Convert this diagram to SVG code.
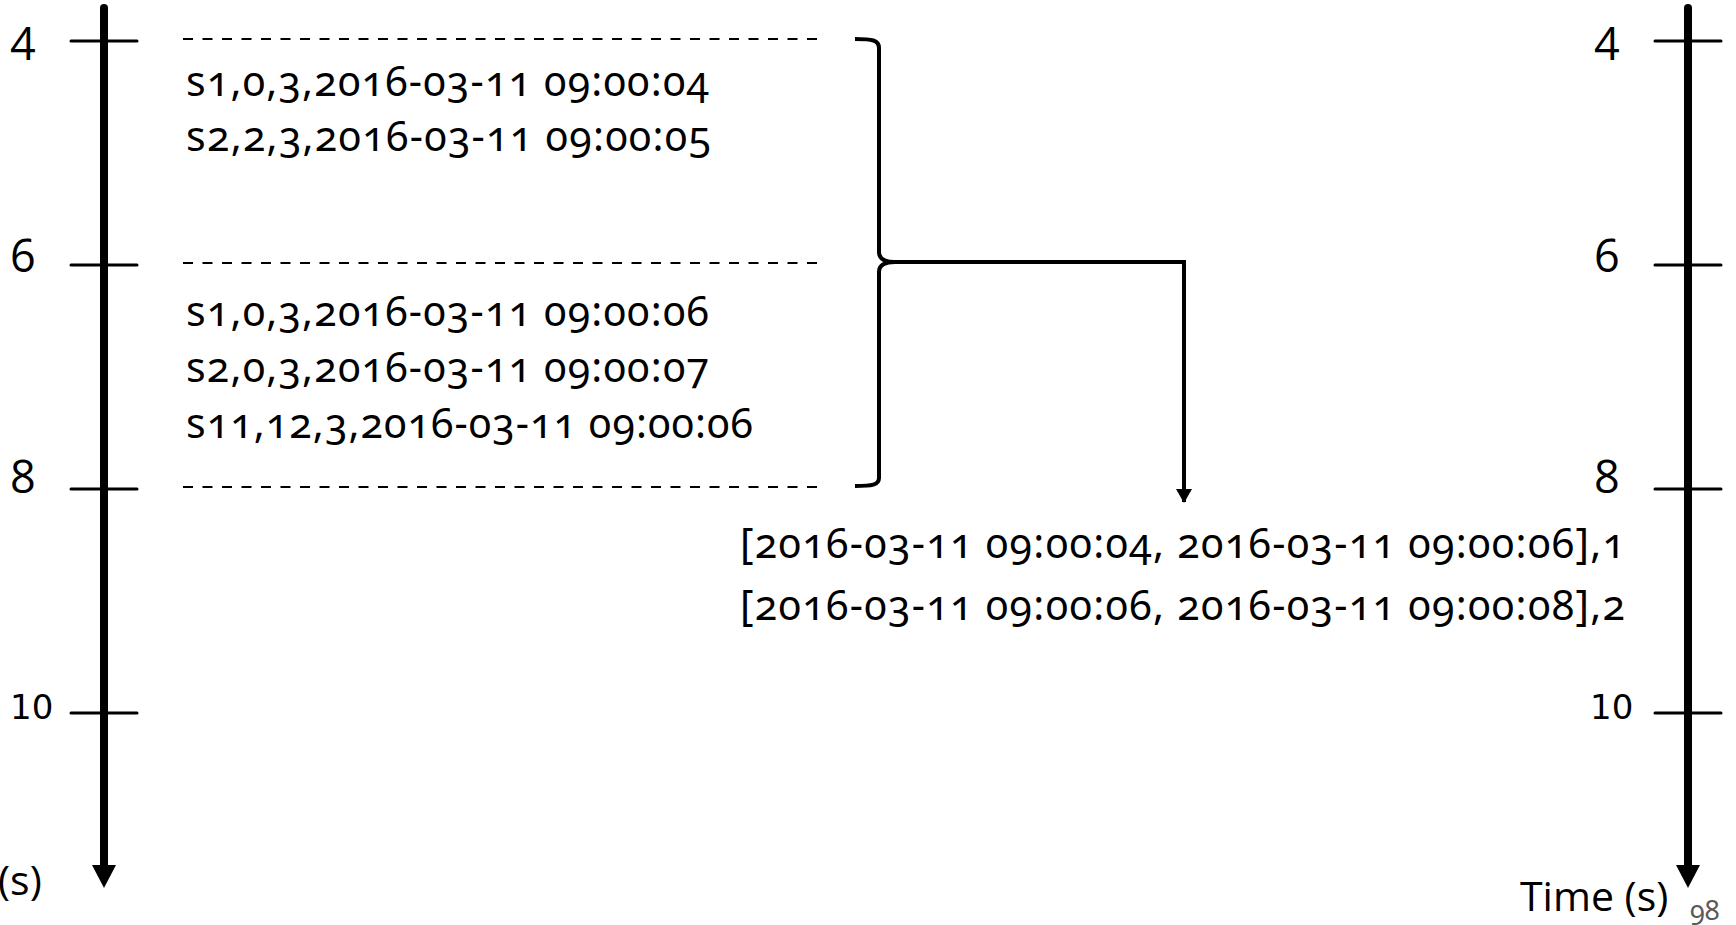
<svg xmlns="http://www.w3.org/2000/svg" width="1736" height="925" viewBox="0 0 1736 925">
<style>
.axis{stroke:#000;stroke-width:8;stroke-linecap:round;fill:none}
.tick{stroke:#000;stroke-width:3;stroke-linecap:round}
.dash{stroke:#000;stroke-width:2;stroke-dasharray:10 9.5}
.lbl{font-family:"Open Sans","Noto Sans",sans-serif;font-size:45px;fill:#000}
.lbl10{font-family:"DejaVu Sans",sans-serif;font-size:34px;fill:#000}
.rec{font-family:"Noto Sans","Open Sans",sans-serif;font-size:41px;fill:#000;font-variant-numeric:oldstyle-nums}
.time{font-family:"Open Sans","Noto Sans",sans-serif;font-size:41px;fill:#000}
.line{stroke:#000;stroke-width:4;fill:none}
</style>
<defs>
<marker id="arr" viewBox="0 0 14 16" refX="13" refY="8" markerWidth="14" markerHeight="16" markerUnits="userSpaceOnUse" orient="auto">
<path d="M0,0 L14,8 L0,16 Z" fill="#000"/>
</marker>
</defs>
<rect width="1736" height="925" fill="#fff"/>

<g id="left-axis">
<line class="axis" x1="104" y1="8" x2="104" y2="866"/>
<polygon points="92,865 116,865 104,888" fill="#000"/>
<line class="tick" x1="71" y1="41" x2="137" y2="41"/>
<line class="tick" x1="71" y1="265" x2="137" y2="265"/>
<line class="tick" x1="71" y1="489" x2="137" y2="489"/>
<line class="tick" x1="71" y1="713" x2="137" y2="713"/>
<text class="lbl" x="10" y="60">4</text>
<text class="lbl" x="10" y="272">6</text>
<text class="lbl" x="10" y="493">8</text>
<text class="lbl10" x="10" y="719">10</text>
<text class="time" x="-2" y="895">(s)</text>
</g>

<g id="right-axis">
<line class="axis" x1="1688" y1="8" x2="1688" y2="866"/>
<polygon points="1676,865 1700,865 1688,888" fill="#000"/>
<line class="tick" x1="1655" y1="41" x2="1721" y2="41"/>
<line class="tick" x1="1655" y1="265" x2="1721" y2="265"/>
<line class="tick" x1="1655" y1="489" x2="1721" y2="489"/>
<line class="tick" x1="1655" y1="713" x2="1721" y2="713"/>
<text class="lbl" x="1594" y="60">4</text>
<text class="lbl" x="1594" y="272">6</text>
<text class="lbl" x="1594" y="493">8</text>
<text class="lbl10" x="1590" y="719">10</text>
<text class="time" x="1520" y="911">Time (s)</text>
</g>

<g id="window-lines">
<line class="dash" x1="183" y1="39" x2="825" y2="39"/>
<line class="dash" x1="183" y1="263" x2="825" y2="263"/>
<line class="dash" x1="183" y1="487" x2="825" y2="487"/>
</g>

<g id="records-1">
<text class="rec" x="186" y="96" textLength="523" lengthAdjust="spacing">s1,0,3,2016-03-11 09:00:04</text>
<text class="rec" x="186" y="151" textLength="525" lengthAdjust="spacing">s2,2,3,2016-03-11 09:00:05</text>
</g>

<g id="records-2">
<text class="rec" x="186" y="326" textLength="523" lengthAdjust="spacing">s1,0,3,2016-03-11 09:00:06</text>
<text class="rec" x="186" y="382" textLength="523" lengthAdjust="spacing">s2,0,3,2016-03-11 09:00:07</text>
<text class="rec" x="186" y="438" textLength="567" lengthAdjust="spacing">s11,12,3,2016-03-11 09:00:06</text>
</g>

<g id="brace">
<path class="line" d="M855,39 C872,39 879,40 879,48 L879,252 C879,258 884,262 895,262 C884,262 879,266 879,272 L879,478 C879,485 872,486 855,486"/>
</g>

<g id="connectors">
<path class="line" d="M893,262 L1184,262 L1184,502" marker-end="url(#arr)"/>
</g>

<g id="result">
<text class="rec" x="740" y="558" textLength="885" lengthAdjust="spacing">[2016-03-11 09:00:04, 2016-03-11 09:00:06],1</text>
<text class="rec" x="740" y="620" textLength="885" lengthAdjust="spacing">[2016-03-11 09:00:06, 2016-03-11 09:00:08],2</text>
</g>

<text x="1690" y="920" style="font-family:'Noto Sans',sans-serif;font-size:27px;fill:#595959;font-variant-numeric:oldstyle-nums">98</text>
</svg>
